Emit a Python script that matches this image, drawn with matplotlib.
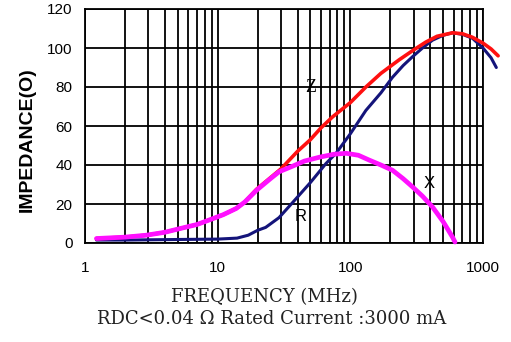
import numpy as np
import matplotlib
matplotlib.use("Agg")
import matplotlib.pyplot as plt
from matplotlib.ticker import FixedLocator, NullFormatter

# Impedance vs frequency (MHz)
freq_x = [1.22, 2.0, 2.9, 4.0, 5.2, 7.0, 9.2, 11, 13.8, 16, 19.6, 25, 29, 37, 45,
          58.5, 75, 93, 115, 139, 170, 208, 250, 294, 350, 416, 500, 560, 589, 615]
react_x = [2.3, 3.0, 4.0, 5.5, 7.4, 9.5, 12.5, 14.5, 17.7, 21, 27, 33, 36.5, 39.5, 42,
           44, 45.5, 46, 45, 42.5, 40, 37.3, 33, 28.8, 24, 18.5, 11, 5.5, 3, 0.5]

freq_z = [1.22, 2.0, 2.9, 4.0, 5.2, 7.0, 9.2, 11, 13.8, 16, 19.6, 25, 30, 40, 50, 60,
          73.5, 100, 131, 170, 234, 300, 370, 450, 589, 700, 832, 1000, 1150, 1300]
imped_z = [2.3, 3.0, 4.0, 5.5, 7.4, 9.5, 12.5, 14.5, 17.7, 21, 27.5, 33.5, 38, 47, 53, 59,
           64.7, 72, 80, 87, 94, 99, 103, 106, 107.8, 107.3, 105.5, 102.5, 99.5, 96]

freq_r = [1.22, 2, 5, 10, 14, 17, 20, 23, 29, 37, 50, 65.6, 78, 100, 131, 170, 208,
          250, 294, 350, 416, 500, 589, 700, 832, 1000, 1150, 1260]
resist_r = [1.5, 1.5, 1.8, 2, 2.5, 4, 6.5, 8, 13, 21, 31, 40.8, 46, 56, 68, 77, 85,
            91, 95.5, 100, 104, 106.5, 107.8, 107, 105, 100, 95, 90]

y_ticks = [0, 20, 40, 60, 80, 100, 120]
x_ticks = [1, 10, 100, 1000]
x_tick_labels = ["1", "10", "100", "1000"]

fig = plt.figure(figsize=(5.11, 3.42), dpi=100)
ax = fig.add_axes([85 / 511, 1 - 243 / 342, 398 / 511, 234 / 342])

ax.set_xscale("log")
ax.set_xlim(1, 1000)
ax.set_ylim(0, 120)

# grid at every 1..9 per decade, horizontal every 20
minor = [m * 10 ** d for d in range(0, 3) for m in range(1, 10)] + [1000]
for f in minor:
    ax.axvline(f, color="black", lw=1.3, zorder=1)
for v in y_ticks:
    ax.axhline(v, color="black", lw=1.3, zorder=1)

ax.plot(freq_r, resist_r, color="#14147a", lw=2.2, zorder=3, clip_on=False,
        solid_capstyle="round")
ax.plot(freq_z, imped_z, color="#ff1010", lw=2.6, zorder=4, clip_on=False,
        solid_capstyle="round")
ax.plot(freq_x, react_x, color="#ff10ff", lw=3.4, zorder=5, clip_on=False,
        solid_capstyle="round")

ax.xaxis.set_major_locator(FixedLocator(x_ticks))
ax.xaxis.set_minor_formatter(NullFormatter())
ax.set_xticks(x_ticks)
ax.set_xticklabels(x_tick_labels)
ax.set_yticks(y_ticks)
ax.tick_params(axis="both", which="both", length=0)
ax.tick_params(axis="x", pad=13, labelsize=11)
ax.tick_params(axis="y", pad=9, labelsize=11)
for lab in ax.get_xticklabels() + ax.get_yticklabels():
    lab.set_family("Liberation Sans")

for s in ax.spines.values():
    s.set_color("black")
    s.set_linewidth(1.3)

# curve names
ax.text(50, (243 - 88) / 233 * 120, "Z", fontsize=13, family="Liberation Serif",
        ha="center", va="center", zorder=6)
ax.text(42, (243 - 217) / 233 * 120, "R", fontsize=12, family="Liberation Sans",
        ha="center", va="center", zorder=6)
ax.text(390, (243 - 184) / 233 * 120, "X", fontsize=12, family="Liberation Sans",
        ha="center", va="center", zorder=6)

fig.text(27 / 511, 1 - 139.5 / 342, "IMPEDANCE(O)", rotation=90, fontsize=14,
         fontweight="bold", family="Liberation Sans", ha="center", va="center")
fig.text(264 / 511, 1 - 297 / 342, "FREQUENCY (MHz)", fontsize=13,
         family="DejaVu Serif", ha="center", va="center", color="#222222")
fig.text(272 / 511, 1 - 318.5 / 342, "RDC<0.04 \u03a9 Rated Current :3000 mA",
         fontsize=13, family="DejaVu Serif", ha="center", va="center",
         color="#222222")

fig.savefig("out.png", dpi=100)
